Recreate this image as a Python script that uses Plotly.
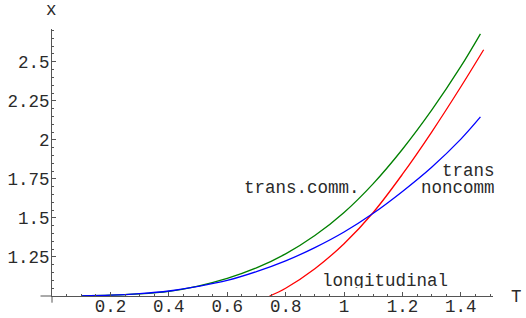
import plotly.graph_objects as go

# trans. comm. (green)
t_comm = [0.1, 0.2, 0.3, 0.4, 0.5, 0.6, 0.7, 0.8, 0.9, 1.0, 1.1, 1.2, 1.3, 1.4, 1.467]
x_comm = [1.001, 1.005, 1.013, 1.030, 1.064, 1.113, 1.180, 1.270, 1.387, 1.535, 1.72, 1.94, 2.19, 2.47, 2.679]

# trans noncomm (blue)
t_noncomm = [0.1, 0.2, 0.3, 0.4, 0.5, 0.6, 0.7, 0.8, 0.9, 1.0, 1.1, 1.2, 1.3, 1.4, 1.467]
x_noncomm = [1.001, 1.005, 1.015, 1.032, 1.062, 1.10, 1.156, 1.225, 1.31, 1.41, 1.53, 1.67, 1.825, 2.005, 2.147]

# longitudinal (red)
t_long = [0.745, 0.8, 0.9, 1.0, 1.1, 1.2, 1.3, 1.4, 1.478]
x_long = [1.0, 1.05, 1.175, 1.335, 1.535, 1.78, 2.05, 2.34, 2.577]

x_tickvals = [0.2, 0.4, 0.6, 0.8, 1.0, 1.2, 1.4]
x_ticktext = ["0.2", "0.4", "0.6", "0.8", "1", "1.2", "1.4"]
y_tickvals = [1.25, 1.5, 1.75, 2.0, 2.25, 2.5]
y_ticktext = ["1.25", "1.5", "1.75", "2", "2.25", "2.5"]

XMIN, XMAX = 0.0, 1.51
YMIN, YMAX = 1.0, 2.71

TXTCOL = "#2a2a2a"
AXCOL = "#555555"
FONT = "Liberation Mono"
FSIZE = 17.5

W, H = 526, 318
ML, MR, MT, MB = 51.5, 32.8, 29, 22
PW, PH = W - ML - MR, H - MT - MB

fig = go.Figure()

fig.add_trace(go.Scatter(x=t_comm, y=x_comm, mode="lines", line_shape="spline",
                         line=dict(color="rgb(0,128,0)", width=1.3)))
fig.add_trace(go.Scatter(x=t_long, y=x_long, mode="lines", line_shape="spline",
                         line=dict(color="rgb(255,0,0)", width=1.3)))
fig.add_trace(go.Scatter(x=t_noncomm, y=x_noncomm, mode="lines", line_shape="spline",
                         line=dict(color="rgb(0,0,255)", width=1.3)))

fig.update_xaxes(
    range=[XMIN, XMAX], showgrid=False, zeroline=False, automargin=False,
    showline=True, linecolor=AXCOL, linewidth=1,
    ticks="inside", ticklen=4, tickcolor=AXCOL, tickwidth=1,
    tickvals=x_tickvals, ticktext=x_ticktext, ticklabelstandoff=-6,
    minor=dict(tick0=0, dtick=0.05, ticks="inside", ticklen=2, tickcolor=AXCOL),
    tickfont=dict(family=FONT, size=FSIZE, color=TXTCOL),
)
fig.update_yaxes(
    range=[YMIN, YMAX], showgrid=False, zeroline=False, automargin=False,
    showline=True, linecolor=AXCOL, linewidth=1,
    ticks="inside", ticklen=4, tickcolor=AXCOL, tickwidth=1,
    tickvals=y_tickvals, ticktext=y_ticktext, ticklabelstandoff=-2,
    minor=dict(tick0=0, dtick=0.05, ticks="inside", ticklen=2, tickcolor=AXCOL),
    tickfont=dict(family=FONT, size=FSIZE, color=TXTCOL),
)

# Mathematica-style axis overhang past the crossing point
fig.add_shape(type="line", xref="paper", yref="paper",
              x0=-11.5 / PW, x1=0, y0=0, y1=0, line=dict(color=AXCOL, width=1))
fig.add_shape(type="line", xref="paper", yref="paper",
              x0=0, x1=0, y0=-6.7 / PH, y1=0, line=dict(color=AXCOL, width=1))


def px(xp, yp):
    return (xp - ML) / PW, (H - MB - yp) / PH


labels = [
    ("x", 51, 9.5, "center"),
    ("T", 516.7, 296, "center"),
    ("trans.comm.", 302, 187, "center"),
    ("trans", 496, 170, "right"),
    ("noncomm", 496, 187, "right"),
    ("longitudinal", 385, 280, "center"),
]
for txt, xp, yp, al in labels:
    ax, ay = px(xp, yp)
    fig.add_annotation(
        text=txt, x=ax, y=ay, xref="paper", yref="paper", showarrow=False,
        xanchor=al, yanchor="middle", height=15, borderpad=0,
        font=dict(family=FONT, size=FSIZE, color=TXTCOL),
    )

fig.update_layout(
    width=W, height=H,
    margin=dict(l=ML, r=MR, t=MT, b=MB, pad=0),
    paper_bgcolor="white", plot_bgcolor="white",
    showlegend=False,
)

# page body has a default 8px margin; drop it so the figure fills the window
fig.write_html("out.html", config={"displayModeBar": False},
               post_script="document.body.style.margin = '0px';")
